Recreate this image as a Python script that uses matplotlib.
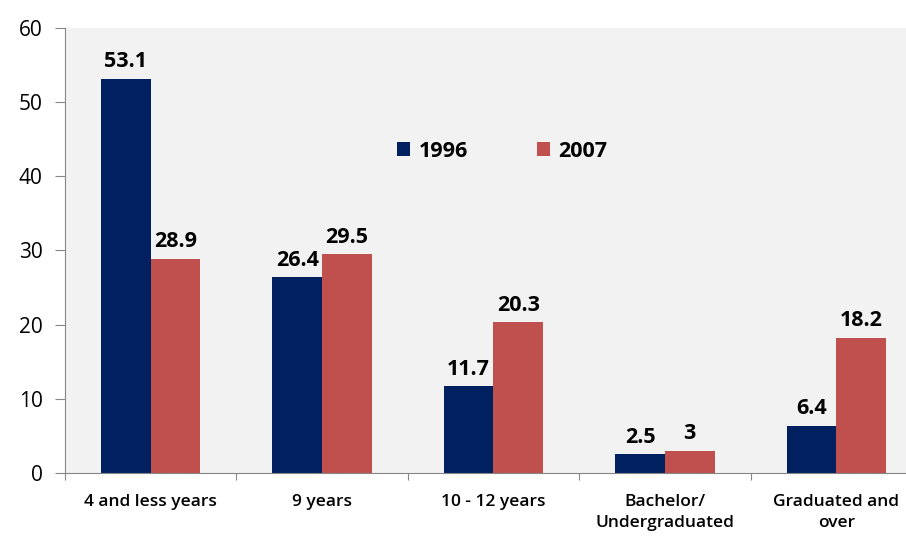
import matplotlib.pyplot as plt
import numpy as np

categories = ["4 and less years", "9 years", "10 - 12 years",
              "Bachelor/\nUndergraduated", "Graduated and\nover"]
values_1996 = [53.1, 26.4, 11.7, 2.5, 6.4]
values_2007 = [28.9, 29.5, 20.3, 3, 18.2]
series_names = ["1996", "2007"]

plt.rcParams['font.family'] = ['Open Sans', 'DejaVu Sans']

fig = plt.figure(figsize=(9.06, 5.36), dpi=100)
ax = fig.add_axes([0.0717, 0.1175, 0.9460, 0.8303])
ax.set_facecolor("#F2F2F2")

x = np.arange(len(categories))
w = 0.29
b1 = ax.bar(x - w / 2, values_1996, w, color="#002060", label=series_names[0])
b2 = ax.bar(x + w / 2, values_2007, w, color="#C0504D", label=series_names[1])

for bars, vals in [(b1, values_1996), (b2, values_2007)]:
    for r, v in zip(bars, vals):
        ax.text(r.get_x() + r.get_width() / 2, v + 0.9, f"{v:g}",
                ha="center", va="bottom", fontsize=15.5, fontweight="bold")

ax.set_xlim(-0.5, len(categories) - 0.5)
ax.set_ylim(0, 60)
ax.set_yticks(range(0, 61, 10))
ax.tick_params(axis="y", labelsize=15, length=7, color="#868686", pad=9)

# category ticks sit on boundaries, labels centered
ax.set_xticks(np.arange(-0.5, len(categories), 1.0))
ax.set_xticklabels([])
ax.set_xticks(x, minor=True)
ax.set_xticklabels(categories, minor=True, fontsize=12.5, fontweight="semibold",
                   linespacing=1.45)
ax.tick_params(axis="x", which="major", length=5, color="#868686")
ax.tick_params(axis="x", which="minor", length=0, pad=15)

for s in ["top", "right"]:
    ax.spines[s].set_visible(False)
for s in ["left", "bottom"]:
    ax.spines[s].set_color("#868686")

ax.legend(loc="upper left", bbox_to_anchor=(0.365, 0.79), ncol=2, frameon=False,
          prop={"size": 15.5, "weight": "bold"}, handlelength=0.6,
          handleheight=0.6, columnspacing=3.2, handletextpad=0.4)

fig.savefig("out.png", dpi=100)
